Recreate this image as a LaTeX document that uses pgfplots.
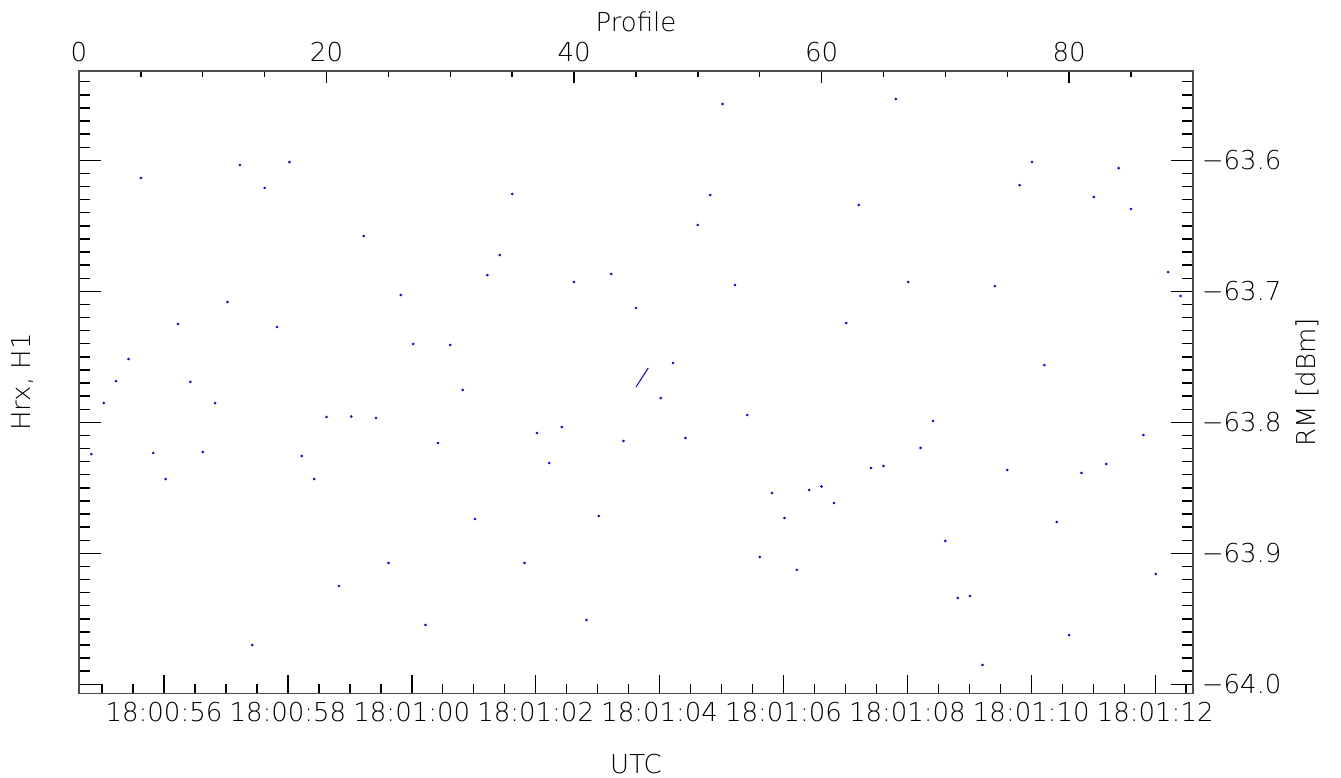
\documentclass[border=0pt]{standalone}
\usepackage{fontspec}
\setmainfont{DejaVu Sans ExtraLight}
\usepackage{pgfplots}
\pgfplotsset{compat=1.18}

\pgfplotsset{
  box/.style={
    width=1114pt, height=622.3pt, scale only axis,
    axis line style={line width=1.4pt, black!70},
    every tick/.style={line width=1.4pt, black},
    tick label style={font=\fontsize{26}{31}\selectfont},
    label style={font=\fontsize{26}{31}\selectfont},
  },
}

\begin{document}
\fontsize{26}{31}\selectfont
\begin{tikzpicture}
\useasboundingbox (-79pt,-84.7pt) rectangle (1262pt,693.3pt);

% profile axis on top, holds the data
\begin{axis}[box,
  xmin=0, xmax=90, ymin=-64.00687, ymax=-63.5318,
  xtick={0,20,40,60,80}, xticklabels={0,20,40,60,80},
  minor xtick={5,10,15,25,30,35,45,50,55,65,70,75,85},
  xtick pos=right, xticklabel pos=right,
  ytick=\empty,
  major tick length=12pt, minor tick length=6pt,
  xlabel={Profile},
  xlabel style={at={(axis description cs:0.5,1)}, anchor=center, yshift=49.3pt},
]
\addplot[only marks, mark=*, mark size=1.1pt, blue] coordinates {
  (1,-63.8242) (2,-63.7853) (3,-63.7685) (4,-63.7517) (5,-63.6135)
  (6,-63.8234) (7,-63.8433) (8,-63.7250) (9,-63.7692) (10,-63.8227)
  (11,-63.7853) (12,-63.7082) (13,-63.6036) (14,-63.9700) (15,-63.6211)
  (16,-63.7273) (17,-63.6013) (18,-63.8257) (19,-63.8433) (20,-63.7960)
  (21,-63.9250) (22,-63.7956) (23,-63.6578) (24,-63.7967) (25,-63.9074)
  (26,-63.7028) (27,-63.7402) (28,-63.9547) (29,-63.8158) (30,-63.7410)
  (31,-63.7753) (32,-63.8738) (33,-63.6876) (34,-63.6723) (35,-63.6257)
  (36,-63.9074) (37,-63.8082) (38,-63.8311) (39,-63.8036) (40,-63.6929)
  (41,-63.9509) (42,-63.8715) (43,-63.6868) (44,-63.8143) (45,-63.7127)
  (47,-63.7815) (48,-63.7547) (49,-63.8120) (50,-63.6494)
  (51,-63.6265) (52,-63.5570) (53,-63.6952) (54,-63.7944) (55,-63.9028)
  (56,-63.8540) (57,-63.8731) (58,-63.9127) (59,-63.8517) (60,-63.8490)
  (61,-63.8616) (62,-63.7242) (63,-63.6341) (64,-63.8349) (65,-63.8334)
  (66,-63.5532) (67,-63.6929) (68,-63.8196) (69,-63.7990) (70,-63.8906)
  (71,-63.9341) (72,-63.9326) (73,-63.9853) (74,-63.6960) (75,-63.8364)
  (76,-63.6189) (77,-63.6013) (78,-63.7563) (79,-63.8761) (80,-63.9624)
  (81,-63.8387) (82,-63.6280) (83,-63.8318) (84,-63.6059) (85,-63.6372)
  (86,-63.8097) (87,-63.9158) (88,-63.6853) (89,-63.7036) (90,-63.6769)
};
\addplot[blue, line width=1pt] coordinates {(45,-63.7731) (46,-63.7585)};
\end{axis}

% RM scale, ticks both sides, numbers on the right
\begin{axis}[box,
  xmin=0, xmax=90, ymin=-64.00687, ymax=-63.5318,
  xtick=\empty,
  ytick={-64,-63.9,-63.8,-63.7,-63.6},
  yticklabels={−64.0,−63.9,−63.8,−63.7,−63.6},
  minor ytick={-63.99,-63.98,...,-63.535},
  ytick pos=both, yticklabel pos=right,
  major tick length=22pt, minor tick length=11pt,
  ylabel={RM [dBm]},
  ylabel style={at={([xshift=114.5pt]axis description cs:1,0.5)}, anchor=center},
]
\end{axis}

% UTC axis at the bottom
\begin{axis}[box,
  xmin=-1.372, xmax=16.61, ymin=0, ymax=1,
  ytick=\empty,
  xtick={0,2,4,6,8,10,12,14,16},
  xticklabels={18:00:56,18:00:58,18:01:00,18:01:02,18:01:04,18:01:06,18:01:08,18:01:10,18:01:12},
  minor xtick={-1,-0.5,...,16.5},
  xtick pos=left, xticklabel pos=left,
  major tick length=18pt, minor tick length=9pt,
  xlabel={UTC},
  xlabel style={at={(axis description cs:0.5,0)}, anchor=center, yshift=-70.7pt},
  ylabel={Hrx, H1},
  ylabel style={at={([xshift=-56pt]axis description cs:0,0.5)}, anchor=center},
]
\end{axis}
\end{tikzpicture}
\end{document}
